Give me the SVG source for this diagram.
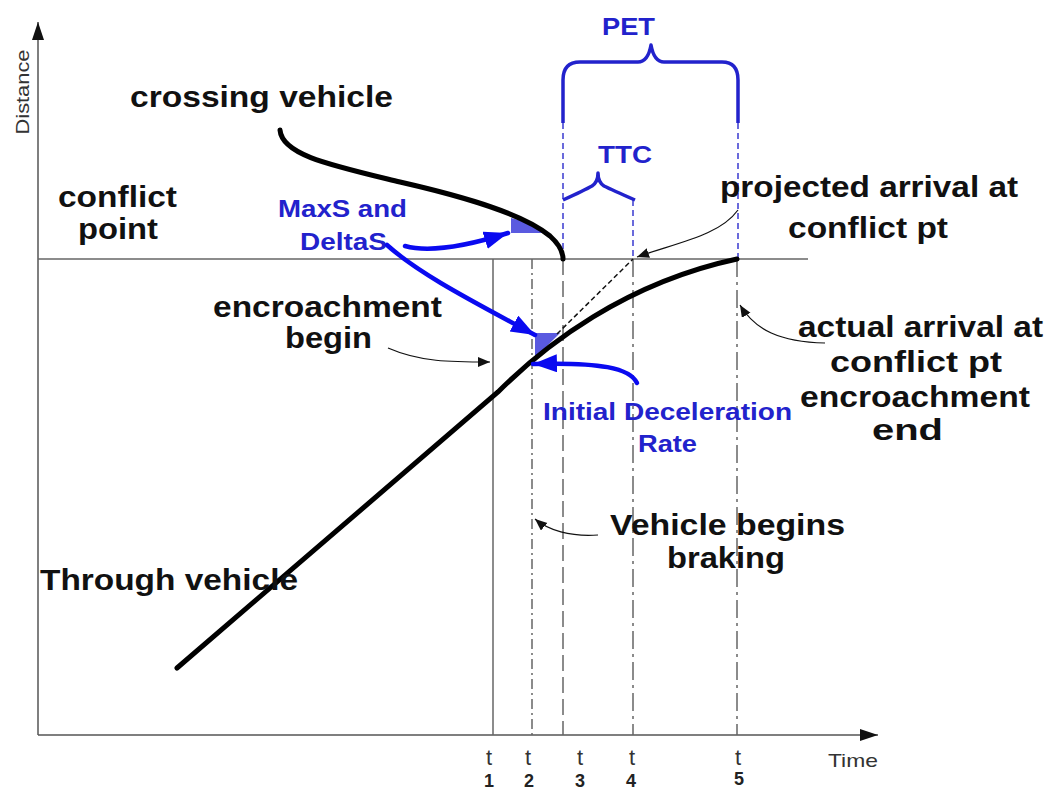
<svg xmlns="http://www.w3.org/2000/svg" width="1051" height="792" viewBox="0 0 1051 792">
<style>
.lbl{font-family:"Liberation Sans",Arial,sans-serif;font-weight:bold;font-size:30px;fill:#111}
.blbl{font-family:"Liberation Sans",Arial,sans-serif;font-weight:bold;font-size:23px;fill:#2222cc}
.ax{font-family:"Liberation Sans",Arial,sans-serif;font-size:19px;fill:#333}
.tl{font-family:"Liberation Sans",Arial,sans-serif;font-size:22px;fill:#333}
.num{font-family:"Liberation Sans",Arial,sans-serif;font-weight:bold;font-size:18px;fill:#222}
.axis{stroke:#555;stroke-width:1.5;fill:none}
.grid{stroke:#666;stroke-width:1.5;fill:none}
.thin{stroke:#111;stroke-width:1.2;fill:none}
.barrow{stroke:#0a0af0;stroke-width:4.5;fill:none;stroke-linecap:round}
.brace{stroke:#2222cc;stroke-width:3.5;fill:none;stroke-linejoin:round}
.bdash{stroke:#3a3ad0;stroke-width:1.5;stroke-dasharray:6 4;fill:none}
.traj{stroke:#000;stroke-width:5;fill:none;stroke-linecap:round}
.shade{fill:#5a5ae0}
</style>
<defs>
<marker id="ah" markerUnits="userSpaceOnUse" markerWidth="14" markerHeight="12" refX="12" refY="5" orient="auto">
<path d="M0,0 L12,5 L0,10 Z" fill="#111"/>
</marker>
<marker id="axh" markerUnits="userSpaceOnUse" markerWidth="20" markerHeight="14" refX="18" refY="6" orient="auto">
<path d="M0,0 L18,6 L0,12 Z" fill="#111"/>
</marker>
<marker id="bh" markerUnits="userSpaceOnUse" markerWidth="26" markerHeight="20" refX="24" refY="9" orient="auto">
<path d="M0,0 L24,9 L0,18 Z" fill="#0a0af0"/>
</marker>
</defs>
<rect width="1051" height="792" fill="#fff"/>

<g id="axes">
<line class="axis" x1="38" y1="735" x2="38" y2="22" marker-end="url(#axh)"/>
<line class="axis" x1="38" y1="735" x2="878" y2="735" marker-end="url(#axh)"/>
<text class="ax" transform="translate(29,92) rotate(-90)" text-anchor="middle" textLength="85" lengthAdjust="spacingAndGlyphs">Distance</text>
<text class="ax" x="828" y="767" textLength="50" lengthAdjust="spacingAndGlyphs">Time</text>
</g>

<g id="time-marks">
<line class="grid" x1="38" y1="259" x2="808" y2="259"/>
<line class="grid" x1="493" y1="259" x2="493" y2="735"/>
<line class="grid" x1="532" y1="259" x2="532" y2="735" stroke-dasharray="10 4 2 4"/>
<line class="grid" x1="563" y1="259" x2="563" y2="735" stroke-dasharray="16 6"/>
<line class="grid" x1="633" y1="259" x2="633" y2="735" stroke-dasharray="18 5 3 5"/>
<line class="grid" x1="737" y1="259" x2="737" y2="735" stroke-dasharray="18 5 3 5"/>
<line class="bdash" x1="563" y1="123" x2="563" y2="258"/>
<line class="bdash" x1="738" y1="123" x2="738" y2="258"/>
<line class="bdash" x1="633" y1="200" x2="633" y2="258"/>
<g class="tl" text-anchor="middle">
<text x="489" y="765">t</text><text x="528" y="765">t</text><text x="580" y="765">t</text><text x="632" y="765">t</text><text x="738" y="765">t</text>
</g>
<g class="num" text-anchor="middle">
<text x="489" y="787">1</text><text x="529" y="787">2</text><text x="580" y="787">3</text><text x="631" y="787">4</text><text x="739" y="785">5</text>
</g>
</g>

<g id="crossing-vehicle">
<path class="shade" d="M511,218 Q530,222 545,233 L511,233 Z"/>
<path class="traj" d="M280,130 C282,155 330,165 400,182 C470,198 525,215 550,236 C560,245 563,252 563,259"/>
<text class="lbl" x="130" y="107" textLength="263" lengthAdjust="spacingAndGlyphs">crossing vehicle</text>
</g>

<g id="through-vehicle">
<path class="shade" d="M535,333 L560,333 L535,358 Z"/>
<line x1="557" y1="334" x2="633" y2="259" stroke="#111" stroke-width="1.5" stroke-dasharray="5 3"/>
<path class="traj" d="M177,668 L498,392 C545,345 625,283 737,259"/>
<text class="lbl" x="40" y="590" textLength="258" lengthAdjust="spacingAndGlyphs">Through vehicle</text>
</g>

<g id="conflict-point">
<text class="lbl" x="58" y="207" textLength="119" lengthAdjust="spacingAndGlyphs">conflict</text>
<text class="lbl" x="78" y="239" textLength="80" lengthAdjust="spacingAndGlyphs">point</text>
</g>

<g id="pet">
<path class="brace" d="M563,123 L563,80 Q563,62 580,62 L638,62 Q648,62 651,45 Q654,62 664,62 L722,62 Q738,62 738,80 L738,123"/>
<text class="blbl" x="602" y="35" textLength="53" lengthAdjust="spacingAndGlyphs">PET</text>
</g>

<g id="ttc">
<path class="brace" d="M563,200 Q585,190 592,186 Q598,182 598,173 Q598,182 604,186 Q612,190 635,200"/>
<text class="blbl" x="598" y="163" textLength="54" lengthAdjust="spacingAndGlyphs">TTC</text>
</g>

<g id="maxs-deltas">
<text class="blbl" x="278" y="217" textLength="129" lengthAdjust="spacingAndGlyphs">MaxS and</text>
<text class="blbl" x="300" y="250" textLength="87" lengthAdjust="spacingAndGlyphs">DeltaS</text>
</g>

<g id="initial-deceleration">
<text class="blbl" x="543" y="420" textLength="249" lengthAdjust="spacingAndGlyphs">Initial Deceleration</text>
<text class="blbl" x="638" y="452" textLength="59" lengthAdjust="spacingAndGlyphs">Rate</text>
</g>

<g id="projected-arrival">
<text class="lbl" x="720" y="197" textLength="298" lengthAdjust="spacingAndGlyphs">projected arrival at</text>
<text class="lbl" x="788" y="238" textLength="160" lengthAdjust="spacingAndGlyphs">conflict pt</text>
</g>

<g id="actual-arrival">
<text class="lbl" x="798" y="337" textLength="245" lengthAdjust="spacingAndGlyphs">actual arrival at</text>
<text class="lbl" x="830" y="372" textLength="172" lengthAdjust="spacingAndGlyphs">conflict pt</text>
<text class="lbl" x="800" y="407" textLength="230" lengthAdjust="spacingAndGlyphs">encroachment</text>
<text class="lbl" x="872" y="440" textLength="71" lengthAdjust="spacingAndGlyphs">end</text>
</g>

<g id="encroachment-begin">
<text class="lbl" x="213" y="317" textLength="229" lengthAdjust="spacingAndGlyphs">encroachment</text>
<text class="lbl" x="285" y="348" textLength="87" lengthAdjust="spacingAndGlyphs">begin</text>
</g>

<g id="vehicle-braking">
<text class="lbl" x="610" y="535" textLength="235" lengthAdjust="spacingAndGlyphs">Vehicle begins</text>
<text class="lbl" x="667" y="568" textLength="118" lengthAdjust="spacingAndGlyphs">braking</text>
</g>

<g id="connectors">
<path class="barrow" d="M405,246 C430,253 470,245 508,233" marker-end="url(#bh)"/>
<path class="barrow" d="M387,245 C420,275 480,305 535,335" marker-end="url(#bh)"/>
<path class="barrow" d="M637,383 C630,368 600,362 533,364" marker-end="url(#bh)"/>
<path class="thin" d="M738,210 C720,235 680,242 637,257" marker-end="url(#ah)"/>
<path class="thin" d="M825,343 C780,342 755,330 740,305" marker-end="url(#ah)"/>
<path class="thin" d="M388,348 C420,362 450,362 490,362" marker-end="url(#ah)"/>
<path class="thin" d="M598,535 C570,537 548,530 535,519" marker-end="url(#ah)"/>
</g>
</svg>
